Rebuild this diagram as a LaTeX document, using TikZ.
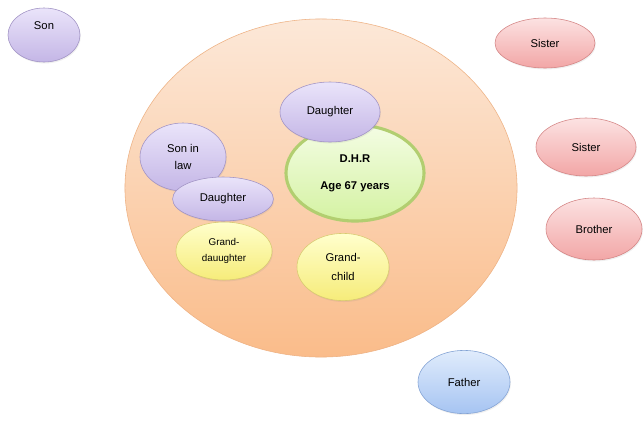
\documentclass[tikz,border=0pt]{standalone}
\usepackage{fontspec}
\setmainfont{Liberation Sans}
\usetikzlibrary{shapes.geometric}
\usetikzlibrary{shadows}
\definecolor{peachtop}{RGB}{252,232,216}
\definecolor{peachbot}{RGB}{250,188,138}
\definecolor{peachline}{RGB}{238,178,132}
\definecolor{lilactop}{RGB}{234,228,250}
\definecolor{lilacbot}{RGB}{196,182,230}
\definecolor{lilacline}{RGB}{160,146,196}
\definecolor{pinktop}{RGB}{252,226,226}
\definecolor{pinkbot}{RGB}{242,166,166}
\definecolor{pinkline}{RGB}{212,132,132}
\definecolor{bluetop}{RGB}{224,236,252}
\definecolor{bluebot}{RGB}{166,196,242}
\definecolor{blueline}{RGB}{130,162,212}
\definecolor{yellowtop}{RGB}{255,255,204}
\definecolor{yellowbot}{RGB}{246,236,122}
\definecolor{yellowline}{RGB}{216,202,112}
\definecolor{greentop}{RGB}{244,253,228}
\definecolor{greenbot}{RGB}{212,242,162}
\definecolor{greenline}{RGB}{178,206,112}
\tikzstyle{member}=[ellipse,draw,inner sep=0pt,align=center,font=\fontsize{8}{12}\selectfont,drop shadow={opacity=0.12,shadow xshift=0.6pt,shadow yshift=-1pt}]
\tikzstyle{lilac}=[member,top color=lilactop,bottom color=lilacbot,draw=lilacline]
\tikzstyle{pink}=[member,top color=pinktop,bottom color=pinkbot,draw=pinkline]
\tikzstyle{yellowish}=[member,top color=yellowtop,bottom color=yellowbot,draw=yellowline]

\begin{document}
\begin{tikzpicture}[x=0.025cm,y=-0.025cm]

  \useasboundingbox[fill=white] (0,0) rectangle (643,423);

  % household
  \node[ellipse,top color=peachtop,bottom color=peachbot,draw=peachline,minimum width=9.8cm,minimum height=8.45cm] (home) at (321,188) {};

  % outside the household
  \node[lilac,minimum width=1.8cm,minimum height=1.35cm] (son) at (44,35) {Son\\[2pt]};
  \foreach \pos/\name/\txt/\w/\h in {{(545,43)/sisa/Sister/2.5/1.25}, {(586,147)/sisb/Sister/2.5/1.45}, {(594,229)/bro/Brother/2.4/1.55}}
    \node[pink,minimum width=\w cm,minimum height=\h cm] (\name) at \pos {\txt};
  \node[member,top color=bluetop,bottom color=bluebot,draw=blueline,minimum width=2.3cm,minimum height=1.58cm] (father) at (464,382) {Father};

  % inside the household
  \node[member,top color=greentop,bottom color=greenbot,draw=greenline,line width=2.2pt,minimum width=3.45cm,minimum height=2.4cm,font=\fontsize{8}{10}\selectfont\bfseries] (dhr) at (355,173) {D.H.R\\[9pt]Age 67 years};
  \node[lilac,minimum width=2.5cm,minimum height=1.5cm] (dtop) at (330,112) {Daughter};
  \node[lilac,minimum width=2.15cm,minimum height=1.7cm] (sil) at (183,157) {Son in\\law};
  \node[yellowish,minimum width=2.4cm,minimum height=1.45cm,font=\fontsize{7}{12}\selectfont] (gdau) at (224,251) {Grand-\\dauughter};
  \node[lilac,minimum width=2.52cm,minimum height=1.1cm] (dmid) at (223,199) {Daughter};
  \node[yellowish,minimum width=2.3cm,minimum height=1.68cm,font=\fontsize{8}{13.5}\selectfont] (gchild) at (343,267) {Grand-\\child};

\end{tikzpicture}
\end{document}
